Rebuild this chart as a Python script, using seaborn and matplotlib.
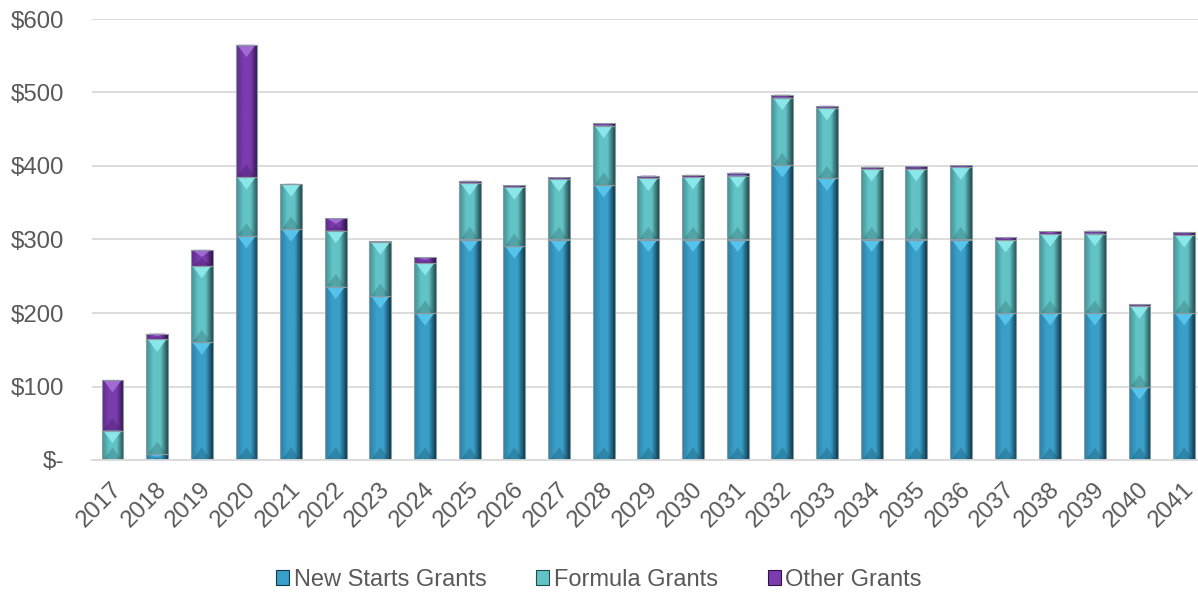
import numpy as np
import pandas as pd
import seaborn as sns
import matplotlib.pyplot as plt
from matplotlib.colors import LinearSegmentedColormap
from matplotlib.patches import Patch, Rectangle, Polygon
from matplotlib.ticker import FuncFormatter
from matplotlib.transforms import ScaledTranslation

years = ["2017", "2018", "2019", "2020", "2021", "2022", "2023", "2024", "2025",
         "2026", "2027", "2028", "2029", "2030", "2031", "2032", "2033", "2034",
         "2035", "2036", "2037", "2038", "2039", "2040", "2041"]
new_starts = [0, 8, 160, 305, 314, 236, 223, 200, 300, 291, 300, 374, 300,
              300, 300, 401, 383, 300, 300, 300, 200, 200, 200, 99, 200]
formula = [40, 156, 104, 80, 61, 76, 73, 68, 77, 80, 82, 81, 83,
           85, 87, 92, 96, 96, 96, 98, 99, 107, 108, 110, 106]
other = [69, 8, 22, 180, 1, 17, 2, 8, 3, 3, 3, 3, 4,
         3, 4, 4, 3, 3, 4, 3, 4, 4, 4, 3, 4]
series_names = ["New Starts Grants", "Formula Grants", "Other Grants"]

# left edge, centre highlight, dark right edge, top bevel colour
palette = {
    "New Starts Grants": ["#2a7ea3", "#3a9fc8", "#10384a", "#55c3ea"],
    "Formula Grants": ["#3f8f93", "#62c3c6", "#22494b", "#8ae6e8"],
    "Other Grants": ["#5e2a8a", "#7a3cae", "#2d1245", "#a06ad0"],
}

sns.set_style("white")
plt.rcParams["font.family"] = ["Liberation Sans", "DejaVu Sans"]
text_col = "#595959"

df = pd.DataFrame({"year": years, "New Starts Grants": new_starts,
                   "Formula Grants": formula, "Other Grants": other})

fig = plt.figure(figsize=(11.98, 5.93), dpi=100)
ax = fig.add_axes([92 / 1198, 1 - 460 / 593, (1198 - 92) / 1198, 441 / 593])

bottom = np.zeros(len(years))
for name in series_names:
    cols = palette[name]
    sns.barplot(data=df, x="year", y=name, bottom=bottom, width=0.49,
                color=cols[1], saturation=1, ax=ax, zorder=2)
    cmap = LinearSegmentedColormap.from_list(
        name, [cols[0], cols[1], cols[1], cols[2]], N=256)
    for p in ax.containers[-1]:
        x0, y0 = p.get_x(), p.get_y()
        w, h = p.get_width(), p.get_height()
        if h <= 0:
            continue
        grad = np.linspace(0, 1, 128).reshape(1, -1)
        im = ax.imshow(grad, cmap=cmap, extent=[x0, x0 + w, y0, y0 + h],
                       aspect="auto", origin="lower", zorder=2.1,
                       interpolation="bilinear")
        im.set_clip_path(p)
        # bevel: light triangle at top, darker one at bottom
        th = min(17, h * 0.45)
        ax.add_patch(Polygon([[x0 + w * 0.08, y0 + h], [x0 + w * 0.92, y0 + h],
                              [x0 + w / 2, y0 + h - th]], closed=True,
                             facecolor=cols[3], edgecolor="none", zorder=2.2))
        ax.add_patch(Polygon([[x0 + w * 0.08, y0], [x0 + w * 0.92, y0],
                              [x0 + w / 2, y0 + th]], closed=True,
                             facecolor=cols[2], alpha=0.25, edgecolor="none",
                             zorder=2.2))
        ax.add_patch(Rectangle((x0, y0), w, h, fill=False, edgecolor="#8c9aa0",
                               lw=0.8, zorder=2.3))
    bottom = bottom + df[name].to_numpy()

ax.set_xlim(-0.459, 24.31)
ax.set_ylim(0, 600)
ax.set_yticks([0, 100, 200, 300, 400, 500, 600])
ax.yaxis.set_major_formatter(FuncFormatter(lambda v, _: "$-" if v == 0 else f"${v:,.0f}"))
ax.yaxis.grid(True, color="#d9d9d9", lw=1.3)
ax.set_axisbelow(True)
ax.set_xlabel("")
ax.set_ylabel("")

for s in ["top", "right", "left"]:
    ax.spines[s].set_visible(False)
ax.spines["bottom"].set_color("#d9d9d9")
ax.spines["bottom"].set_linewidth(1.3)

ax.tick_params(axis="y", length=0, pad=20, labelsize=17.3, labelcolor=text_col)
ax.tick_params(axis="x", length=0, pad=19, labelsize=17.3, labelcolor=text_col)
shift = ScaledTranslation(6 / 100, 0, fig.dpi_scale_trans)
for lbl in ax.get_xticklabels():
    lbl.set_rotation(45)
    lbl.set_ha("right")
    lbl.set_va("center")
    lbl.set_rotation_mode("anchor")
    lbl.set_transform(lbl.get_transform() + shift)

handles = [Patch(facecolor=palette[n][1], edgecolor=palette[n][2], lw=0.8)
           for n in series_names]
fig.legend(handles, series_names, loc="center", bbox_to_anchor=(0.5, 0.022),
           ncol=3, frameon=False, fontsize=17, labelcolor=text_col,
           handlelength=0.55, handleheight=0.55, handletextpad=0.2,
           columnspacing=2.1)

fig.savefig("out.png", dpi=100)
